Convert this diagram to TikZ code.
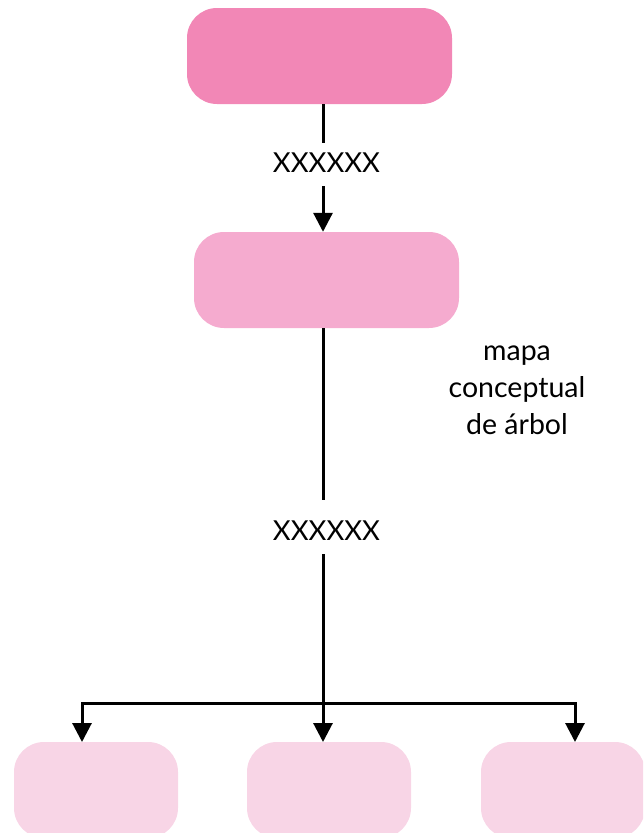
\documentclass[tikz,border=0pt]{standalone}
\usepackage{fontspec}
\setmainfont{Lato}
\usetikzlibrary{arrows.meta,positioning}
\definecolor{boxA}{HTML}{F287B6}
\definecolor{boxB}{HTML}{F5ABCF}
\definecolor{boxC}{HTML}{F8D5E6}
\tikzset{
  card/.style={rounded corners=30pt, inner sep=0pt, minimum height=96pt},
  wide/.style={card, minimum width=265pt},
  narrow/.style={card, minimum width=164pt},
  lbl/.style={font=\fontsize{27.5}{30}\selectfont, inner sep=0pt},
  link/.style={line width=3pt},
  arr/.style={link, -{Triangle[width=19pt,length=19pt]}}
}
\begin{document}
\begin{tikzpicture}[x=1pt,y=-1pt]
\useasboundingbox (0,0) rectangle (643,833);
\clip (0,0) rectangle (643,833);
\node[wide, fill=boxA] (top) at (319.5,56) {};
\node[wide, fill=boxB] (mid) at (326.5,280) {};
\node[narrow, fill=boxC] (b1) at (96,790) {};
\node[narrow, fill=boxC] (b2) at (329,790) {};
\node[narrow, fill=boxC] (b3) at (563,790) {};
\node[lbl] (l1) at (326.5,163) {XXXXXX};
\node[lbl] (l2) at (326.5,531) {XXXXXX};
\node[lbl, align=center, font=\fontsize{28.5}{37}\selectfont] (note) at (517,390) {mapa\\conceptual\\de árbol};
\coordinate (j) at (323,703);
\coordinate (a1) at (82,742);
\coordinate (a2) at (323,742);
\coordinate (a3) at (575,742);
\draw[link] (top.south -| j) -- ([yshift=10pt]l1.north -| j);
\draw[arr] ([yshift=-13pt]l1.south -| j) -- (mid.north -| j);
\draw[link] (mid.south -| j) -- ([yshift=21pt]l2.north -| j);
\draw[arr] ([yshift=-13pt]l2.south -| j) -- (a2);
\draw[arr] (j) -| (a1);
\draw[arr] (j) -| (a3);
\end{tikzpicture}
\end{document}
